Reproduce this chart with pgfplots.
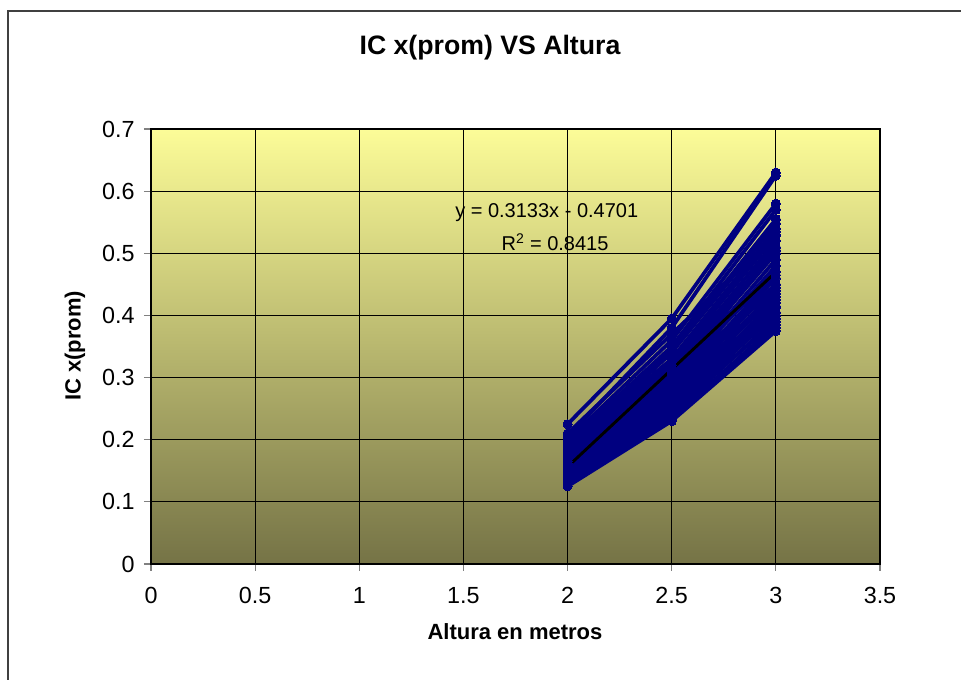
\documentclass[border=0pt]{standalone}
\usepackage{pgfplots}
\pgfplotsset{compat=1.18}
\usepackage{fontspec}
\setmainfont{Liberation Sans}
\definecolor{navyx}{RGB}{0,0,128}
\definecolor{bgtop}{RGB}{252,252,152}
\definecolor{bgbot}{RGB}{117,115,70}
\pgfplotsset{ser/.style={navyx, line width=2.8pt, line join=round, mark=*, mark size=3.4pt, mark options={fill=navyx, draw=navyx, line width=0pt}}}
\begin{document}
\begin{tikzpicture}
\useasboundingbox (0pt,0pt) rectangle (720.75pt,510pt);
\draw[line width=1.6pt, black!75] (6pt,0pt) -- (6pt,501.75pt) -- (720.75pt,501.75pt);
\node[font=\bfseries\fontsize{20}{24}\selectfont] at (367.5pt,474pt) {IC x(prom) VS Altura};
\node[font=\bfseries\fontsize{16.5}{20}\selectfont, rotate=90] at (56.25pt,250.5pt) {IC x(prom)};
\node[font=\bfseries\fontsize{16.5}{20}\selectfont] at (386.25pt,36pt) {Altura en metros};
\begin{axis}[
  at={(113.25pt,87pt)}, anchor=south west, scale only axis,
  width=546.75pt, height=326.25pt,
  xmin=0, xmax=3.5, ymin=0, ymax=0.7,
  xtick={0,0.5,1,1.5,2,2.5,3,3.5},
  ytick={0,0.1,0.2,0.3,0.4,0.5,0.6,0.7},
  grid=major, major grid style={black, line width=0.8pt},
  axis line style={black, line width=0.9pt},
  tick style={gray, line width=0.8pt},
  tick align=outside, major tick length=5.25pt,
  xtick pos=bottom, ytick pos=left,
  /pgf/number format/assume math mode=true,
  /pgf/number format/fixed,
  ticklabel style={font=\fontsize{17.5}{21}\selectfont},
  xticklabel style={yshift=-9pt},
  yticklabel style={xshift=-3.5pt},
  axis background/.style={shade, top color=bgtop, bottom color=bgbot},
  clip=false,
]
\addplot[ser] coordinates {(2,0.225) (2.5,0.395) (3,0.630)};
\addplot[ser] coordinates {(2,0.205) (2.5,0.380) (3,0.625)};
\addplot[ser] coordinates {(2,0.200) (2.5,0.360) (3,0.580)};
\addplot[ser] coordinates {(2,0.195) (2.5,0.350) (3,0.570)};
\addplot[ser] coordinates {(2,0.190) (2.5,0.345) (3,0.555)};
\addplot[ser] coordinates {(2,0.185) (2.5,0.340) (3,0.548)};
\addplot[ser] coordinates {(2,0.180) (2.5,0.330) (3,0.540)};
\addplot[ser] coordinates {(2,0.178) (2.5,0.320) (3,0.535)};
\addplot[ser] coordinates {(2,0.175) (2.5,0.325) (3,0.528)};
\addplot[ser] coordinates {(2,0.172) (2.5,0.315) (3,0.520)};
\addplot[ser] coordinates {(2,0.170) (2.5,0.310) (3,0.510)};
\addplot[ser] coordinates {(2,0.168) (2.5,0.300) (3,0.505)};
\addplot[ser] coordinates {(2,0.165) (2.5,0.305) (3,0.500)};
\addplot[ser] coordinates {(2,0.162) (2.5,0.295) (3,0.490)};
\addplot[ser] coordinates {(2,0.160) (2.5,0.290) (3,0.480)};
\addplot[ser] coordinates {(2,0.158) (2.5,0.300) (3,0.470)};
\addplot[ser] coordinates {(2,0.156) (2.5,0.285) (3,0.465)};
\addplot[ser] coordinates {(2,0.155) (2.5,0.280) (3,0.460)};
\addplot[ser] coordinates {(2,0.152) (2.5,0.275) (3,0.450)};
\addplot[ser] coordinates {(2,0.150) (2.5,0.290) (3,0.445)};
\addplot[ser] coordinates {(2,0.148) (2.5,0.270) (3,0.440)};
\addplot[ser] coordinates {(2,0.146) (2.5,0.265) (3,0.435)};
\addplot[ser] coordinates {(2,0.145) (2.5,0.275) (3,0.430)};
\addplot[ser] coordinates {(2,0.143) (2.5,0.260) (3,0.425)};
\addplot[ser] coordinates {(2,0.142) (2.5,0.255) (3,0.420)};
\addplot[ser] coordinates {(2,0.140) (2.5,0.265) (3,0.415)};
\addplot[ser] coordinates {(2,0.138) (2.5,0.250) (3,0.412)};
\addplot[ser] coordinates {(2,0.137) (2.5,0.245) (3,0.405)};
\addplot[ser] coordinates {(2,0.135) (2.5,0.255) (3,0.400)};
\addplot[ser] coordinates {(2,0.134) (2.5,0.240) (3,0.395)};
\addplot[ser] coordinates {(2,0.132) (2.5,0.248) (3,0.390)};
\addplot[ser] coordinates {(2,0.130) (2.5,0.235) (3,0.385)};
\addplot[ser] coordinates {(2,0.128) (2.5,0.232) (3,0.380)};
\addplot[ser] coordinates {(2,0.125) (2.5,0.230) (3,0.375)};
\addplot[ser] coordinates {(2,0.210) (2.5,0.370) (3,0.530)};
\addplot[ser] coordinates {(2,0.190) (2.5,0.330) (3,0.500)};
\addplot[ser] coordinates {(2,0.185) (2.5,0.310) (3,0.470)};
\addplot[ser] coordinates {(2,0.175) (2.5,0.300) (3,0.450)};
\addplot[ser] coordinates {(2,0.160) (2.5,0.310) (3,0.440)};
\addplot[ser] coordinates {(2,0.150) (2.5,0.280) (3,0.520)};
\addplot[black, line width=2.2pt] coordinates {(2,0.1565) (3,0.4698)};
\node[font=\fontsize{15}{18}\selectfont] at (axis cs:1.90,0.566) {y = 0.3133x - 0.4701};
\node[font=\fontsize{15}{18}\selectfont] at (axis cs:1.94,0.518) {R\textsuperscript{2} = 0.8415};
\end{axis}
\end{tikzpicture}
\end{document}
